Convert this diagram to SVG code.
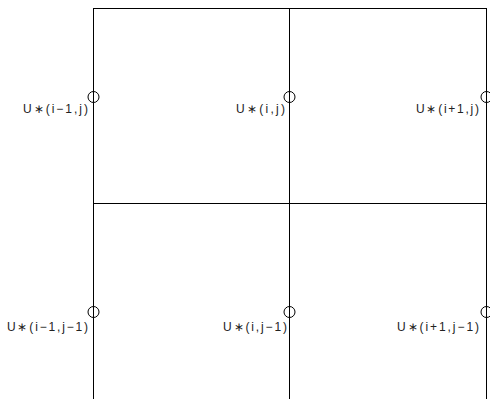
<svg xmlns="http://www.w3.org/2000/svg" width="490" height="399" viewBox="0 0 490 399">
<style>
.ln{stroke:#000;stroke-width:1;fill:none}
.pt{stroke:#000;stroke-width:1;fill:none}
.lb{font-family:"Liberation Sans",Arial,sans-serif;font-size:12px;fill:#222;text-anchor:end}
</style>
<rect width="490" height="399" fill="#fff"/>
<g id="connectors">
<line class="ln" x1="93.5" y1="8.5" x2="486.5" y2="8.5"/>
<line class="ln" x1="93.5" y1="203.5" x2="486.5" y2="203.5"/>
<line class="ln" x1="93.5" y1="8" x2="93.5" y2="399"/>
<line class="ln" x1="289.5" y1="8" x2="289.5" y2="399"/>
<line class="ln" x1="486.5" y1="8" x2="486.5" y2="399"/>
</g>
<g id="n-im1-j">
<circle class="pt" cx="93.5" cy="97" r="5.5"/>
<text class="lb" x="88" y="113" textLength="65" lengthAdjust="spacing">U∗(i−1,j)</text>
</g>
<g id="n-i-j">
<circle class="pt" cx="289.5" cy="97" r="5.5"/>
<text class="lb" x="285" y="113" textLength="49" lengthAdjust="spacing">U∗(i,j)</text>
</g>
<g id="n-ip1-j">
<circle class="pt" cx="486.5" cy="97" r="5.5"/>
<text class="lb" x="479" y="113" textLength="63" lengthAdjust="spacing">U∗(i+1,j)</text>
</g>
<g id="n-im1-jm1">
<circle class="pt" cx="93.5" cy="312" r="5.5"/>
<text class="lb" x="88" y="331" textLength="81" lengthAdjust="spacing">U∗(i−1,j−1)</text>
</g>
<g id="n-i-jm1">
<circle class="pt" cx="289.5" cy="312" r="5.5"/>
<text class="lb" x="287" y="331" textLength="64" lengthAdjust="spacing">U∗(i,j−1)</text>
</g>
<g id="n-ip1-jm1">
<circle class="pt" cx="486.5" cy="312" r="5.5"/>
<text class="lb" x="479" y="331" textLength="82" lengthAdjust="spacing">U∗(i+1,j−1)</text>
</g>
</svg>
